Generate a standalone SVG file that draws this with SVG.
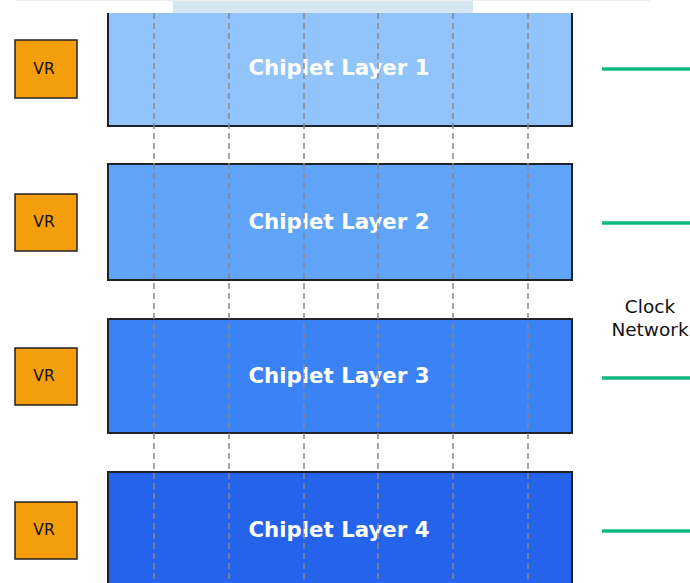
<svg xmlns="http://www.w3.org/2000/svg" width="690" height="583" viewBox="0 0 690 583">
<style>
.layer{stroke:#1f2328;stroke-width:2}
.vr{fill:#f59e0b;stroke:#222;stroke-width:1.5}
.vrt{font-family:"DejaVu Sans",sans-serif;font-size:15.5px;fill:#111;text-anchor:middle}
.lt{font-family:"DejaVu Sans",sans-serif;font-weight:bold;font-size:21.3px;fill:#fff;text-anchor:middle}
.tsv{stroke:#888;stroke-width:1.5;stroke-dasharray:6,4;fill:none}
.clk{stroke:#10b981;stroke-width:3.5}
.cl{font-family:"DejaVu Sans",sans-serif;font-size:18.5px;fill:#111;text-anchor:middle}
</style>
<rect width="690" height="583" fill="#fff"/>
<g id="layer1"><rect class="layer" x="108" y="-10" width="464" height="136" fill="#90c4fa"/><text class="lt" x="339" y="75">Chiplet Layer 1</text></g>
<g id="layer2"><rect class="layer" x="108" y="164" width="464" height="116" fill="#60a5fa"/><text class="lt" x="339" y="229">Chiplet Layer 2</text></g>
<g id="layer3"><rect class="layer" x="108" y="319" width="464" height="114" fill="#3b82f6"/><text class="lt" x="339" y="383">Chiplet Layer 3</text></g>
<g id="layer4"><rect class="layer" x="108" y="472" width="464" height="130" fill="#2563eb"/><text class="lt" x="339" y="537">Chiplet Layer 4</text></g>
<rect x="0" y="0" width="690" height="13" fill="#fff"/>
<rect x="173" y="0" width="300" height="13" fill="#d5e7f0"/>
<line x1="15" y1="0.5" x2="650" y2="0.5" stroke="#eee" stroke-width="1"/>
<g id="connectors">
<line class="tsv" x1="154" y1="13" x2="154" y2="583"/>
<line class="tsv" x1="229" y1="13" x2="229" y2="583"/>
<line class="tsv" x1="304" y1="13" x2="304" y2="583"/>
<line class="tsv" x1="378" y1="13" x2="378" y2="583"/>
<line class="tsv" x1="453" y1="13" x2="453" y2="583"/>
<line class="tsv" x1="528" y1="13" x2="528" y2="583"/>
<line class="clk" x1="602" y1="69" x2="690" y2="69"/>
<line class="clk" x1="602" y1="223" x2="690" y2="223"/>
<line class="clk" x1="602" y1="378" x2="690" y2="378"/>
<line class="clk" x1="602" y1="531" x2="690" y2="531"/>
</g>
<g id="vr1"><rect class="vr" x="15" y="40" width="62" height="58"/><text class="vrt" x="44" y="74">VR</text></g>
<g id="vr2"><rect class="vr" x="15" y="194" width="62" height="57"/><text class="vrt" x="44" y="227">VR</text></g>
<g id="vr3"><rect class="vr" x="15" y="348" width="62" height="57"/><text class="vrt" x="44" y="381">VR</text></g>
<g id="vr4"><rect class="vr" x="15" y="502" width="62" height="57"/><text class="vrt" x="44" y="535">VR</text></g>
<g id="clock"><text class="cl" x="650" y="313">Clock</text><text class="cl" x="650" y="336">Network</text></g>
</svg>
